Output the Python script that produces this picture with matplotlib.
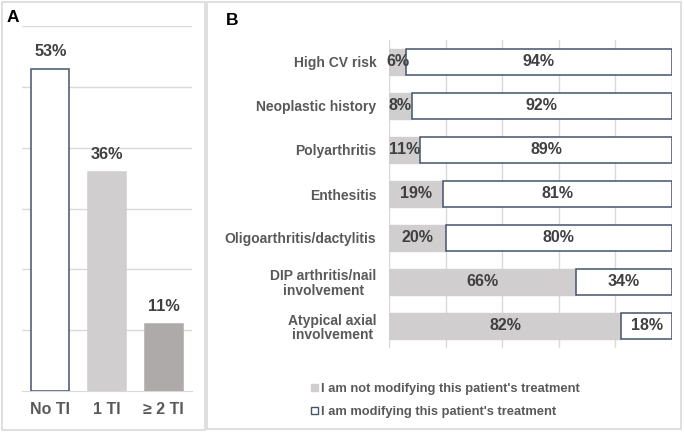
import matplotlib
matplotlib.use("Agg")
import matplotlib.pyplot as plt
from matplotlib.patches import Rectangle, Patch

plt.rcParams['font.family'] = ['Liberation Sans', 'DejaVu Sans']

# Panel A data
a_categories = ["No TI", "1 TI", "\u2265 2 TI"]
a_values = [53, 36, 11]
a_colors = ["#FFFFFF", "#D0CECE", "#AEAAAA"]
a_edges = ["#44546A", "#D0CECE", "#AEAAAA"]

# Panel B data
b_categories = ["High CV risk", "Neoplastic history", "Polyarthritis", "Enthesitis",
                "Oligoarthritis/dactylitis", "DIP arthritis/nail\ninvolvement",
                "Atypical axial\ninvolvement"]
b_not_modifying = [6, 8, 11, 19, 20, 66, 82]
b_modifying = [94, 92, 89, 81, 80, 34, 18]
legend_labels = ["I am not modifying this patient's treatment",
                 "I am modifying this patient's treatment"]

W, H = 684, 433
fig = plt.figure(figsize=(W / 100, H / 100), dpi=100)

def fx(px):
    return px / W

def fy(py):
    return 1 - py / H

GRID = "#D9D9D9"
TXT = "#595959"
VAL = "#404040"
EDGE = "#44546A"

# Panel frames
fig.patches.append(Rectangle((fx(2), fy(430)), fx(203), (428) / H, transform=fig.transFigure,
                             fill=False, edgecolor=GRID, linewidth=1.2))
fig.patches.append(Rectangle((fx(207), fy(429)), fx(474), (427) / H, transform=fig.transFigure,
                             fill=False, edgecolor=GRID, linewidth=1.2))

# Panel A
axA = fig.add_axes([fx(22), fy(391), fx(170), (391 - 26) / H])
xa = range(len(a_categories))
bars = axA.bar(xa, a_values, width=0.67, color=a_colors, edgecolor=a_edges, linewidth=1.1, zorder=3)
axA.set_xlim(-0.5, 2.5)
axA.set_ylim(0, 60)
axA.set_yticks([10, 20, 30, 40, 50, 60])
axA.yaxis.grid(True, color=GRID, linewidth=1, zorder=0)
axA.tick_params(axis='y', left=False, labelleft=False)
axA.tick_params(axis='x', length=0, pad=8)
axA.set_xticks(list(xa))
axA.set_xticklabels(a_categories, fontsize=11.5, fontweight='bold', color=TXT)
for s in ['top', 'right', 'left']:
    axA.spines[s].set_visible(False)
axA.spines['bottom'].set_color(GRID)
axA.bar_label(bars, labels=[f"{v}%" for v in a_values], padding=7,
              fontsize=11.7, fontweight='bold', color=VAL)

# Panel B
axB = fig.add_axes([fx(389), fy(348), fx(283), (348 - 40) / H])
yb = list(range(len(b_categories)))
h1 = axB.barh(yb, b_not_modifying, height=0.59, color="#D0CECE", edgecolor="#D0CECE", zorder=3)
h2 = axB.barh(yb, b_modifying, left=b_not_modifying, height=0.59, color="#FFFFFF",
              edgecolor=EDGE, linewidth=1.1, zorder=3)
axB.set_xlim(0, 100)
axB.set_ylim(len(b_categories) - 0.5, -0.5)
axB.set_xticks([0, 20, 40, 60, 80, 100])
axB.xaxis.grid(True, color=GRID, linewidth=1, zorder=0)
axB.tick_params(axis='x', bottom=False, labelbottom=False)
axB.tick_params(axis='y', length=0, pad=9)
axB.set_yticks(yb)
axB.set_yticklabels(b_categories, fontsize=10, fontweight='bold', color=TXT)
for lab in axB.get_yticklabels():
    lab.set_multialignment('center')
    lab.set_linespacing(1.05)
for s in axB.spines.values():
    s.set_visible(False)
axB.bar_label(h1, labels=[f"{v}%" for v in b_not_modifying], label_type='center',
              fontsize=11.5, fontweight='bold', color=VAL, zorder=5)
axB.bar_label(h2, labels=[f"{v}%" for v in b_modifying], label_type='center',
              fontsize=11.5, fontweight='bold', color=VAL, zorder=5)

handles = [Patch(facecolor="#D0CECE", edgecolor="#D0CECE"),
           Patch(facecolor="#FFFFFF", edgecolor=EDGE, linewidth=1)]
fig.legend(handles, legend_labels, loc='upper left', bbox_to_anchor=(fx(311), fy(383)),
           frameon=False, handlelength=0.55, handleheight=0.55,
           handletextpad=0.25, labelspacing=0.85, borderpad=0, borderaxespad=0,
           labelcolor=TXT, prop={'weight': 'bold', 'size': 9.3})

# Panel letters
fig.text(fx(7), fy(17.5), "A", fontsize=12.5, fontweight='bold', color='black', ha='left', va='center')
fig.text(fx(226), fy(20.5), "B", fontsize=12.5, fontweight='bold', color='black', ha='left', va='center')

fig.savefig("out.png", dpi=100)
